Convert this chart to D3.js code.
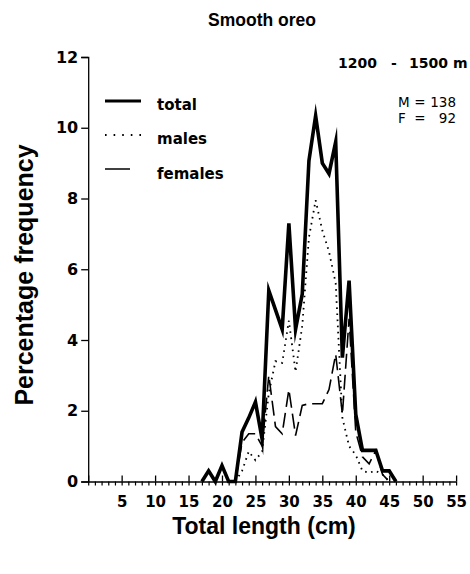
<!DOCTYPE html>
<html>
<head>
<meta charset="utf-8">
<script src="https://cdn.jsdelivr.net/npm/d3@7"></script>
<style>
  html, body { margin: 0; padding: 0; background: #fff; }
  svg { display: block; }
</style>
</head>
<body>
<script>
// Length-frequency of smooth oreo, 1200 - 1500 m depth stratum
const lengthsTotal = [17,18,19,20,21,22,23,24,25,26,27,28,29,30,31,32,33,34,35,36,37,38,39,40,41,42,43,44,45,46];
const totalPct     = [0,0.3,0,0.45,0,0,1.4,1.8,2.25,1.2,5.4,4.85,4.3,7.3,4.3,5.3,9.07,10.34,9.0,8.7,9.6,3.5,5.68,1.9,0.88,0.88,0.88,0.3,0.3,0];

const lengthsSex = [22,23,24,25,26,27,28,29,30,31,32,33,34,35,36,37,38,39,40,41,42,43,44,45];
const malesPct   = [0,0.3,0.85,0.6,0.85,2.5,3.4,3.35,4.55,3.1,4.4,6.9,7.95,7.1,6.5,5.6,1.8,1.0,0.75,0.3,0.25,0.3,0.2,0];
const femalesPct = [0,1.1,1.35,1.35,1.0,3.0,1.55,1.35,2.6,1.3,2.15,2.2,2.2,2.2,2.6,3.6,1.9,4.6,1.4,0.7,0.5,0.88,0.2,0];

const yTicks = [0,2,4,6,8,10,12];
const xMajorTicks = [0,5,10,15,20,25,30,35,40,45,50,55];
const xLabelTicks = [5,10,15,20,25,30,35,40,45,50,55];
const xMinorTicks = d3.range(0, 56);

const legendItems = ["total", "males", "females"];
const sampleSizes = [["M", "138"], ["F", "92"]];
const depthParts = [["1200", 338], ["-", 391], ["1500", 409], ["m", 453]];

const W = 470, H = 574;
const svg = d3.select("body").append("svg").attr("width", W).attr("height", H);

const x = d3.scaleLinear().domain([0, 55]).range([88.2, 456.1]);
const y = d3.scaleLinear().domain([0, 12]).range([481.5, 57]);

const labelFont = "'DejaVu Sans', sans-serif";
const titleFont = "'Liberation Sans', Arial, sans-serif";

// Title
svg.append("text").attr("x", 262).attr("y", 26).attr("text-anchor", "middle")
  .attr("font-family", titleFont).attr("font-weight", "bold").attr("font-size", 17.5)
  .text("Smooth oreo");

// Y axis
const yAxis = svg.append("g").attr("transform", `translate(${x(0)},0)`)
  .call(d3.axisLeft(y).tickValues(yTicks).tickSize(7).tickPadding(3).tickFormat(d3.format("d")));
yAxis.select(".domain").attr("stroke", "#000").attr("stroke-width", 1.3);
yAxis.selectAll(".tick line").attr("stroke", "#000").attr("stroke-width", 1.3);
yAxis.selectAll(".tick text").attr("font-family", labelFont).attr("font-weight", "bold")
  .attr("font-size", 16).attr("fill", "#000");

// X axis: minor ticks every cm below, major ticks every 5 cm across the line
const xMinor = svg.append("g").attr("transform", `translate(0,${y(0)})`)
  .call(d3.axisBottom(x).tickValues(xMinorTicks).tickSize(4).tickSizeOuter(0).tickFormat(""));
xMinor.select(".domain").attr("stroke", "#000").attr("stroke-width", 1.6);
xMinor.selectAll(".tick line").attr("stroke", "#000").attr("stroke-width", 1.2);

const xMajor = svg.append("g").attr("transform", `translate(0,${y(0)})`)
  .call(d3.axisTop(x).tickValues(xMajorTicks).tickSize(6).tickSizeOuter(0).tickFormat(""));
xMajor.select(".domain").remove();
xMajor.selectAll(".tick line").attr("stroke", "#000").attr("stroke-width", 1.3);

const xLabels = svg.append("g").attr("transform", `translate(0,${y(0)})`)
  .call(d3.axisBottom(x).tickValues(xLabelTicks).tickSize(0).tickPadding(15).tickFormat(d3.format("d")));
xLabels.select(".domain").remove();
xLabels.selectAll(".tick text").attr("font-family", labelFont).attr("font-weight", "bold")
  .attr("font-size", 15).attr("fill", "#000");

// Axis titles
svg.append("text").attr("x", 264).attr("y", 534).attr("text-anchor", "middle")
  .attr("font-family", titleFont).attr("font-weight", "bold").attr("font-size", 23)
  .text("Total length (cm)");
svg.append("text").attr("transform", "translate(33,275) rotate(-90)").attr("text-anchor", "middle")
  .attr("font-family", titleFont).attr("font-weight", "bold").attr("font-size", 25)
  .text("Percentage frequency");

// Series lines
const lineOf = (xs, vs) => d3.line().x((d, i) => x(xs[i])).y(d => y(d))(vs);

svg.append("path").attr("d", lineOf(lengthsSex, femalesPct))
  .attr("fill", "none").attr("stroke", "#000").attr("stroke-width", 1.6)
  .attr("stroke-dasharray", "15 6");
svg.append("path").attr("d", lineOf(lengthsSex, malesPct))
  .attr("fill", "none").attr("stroke", "#000").attr("stroke-width", 1.8)
  .attr("stroke-dasharray", "1.6 4.5");
svg.append("path").attr("d", lineOf(lengthsTotal, totalPct))
  .attr("fill", "none").attr("stroke", "#000").attr("stroke-width", 3.6)
  .attr("stroke-linejoin", "miter").attr("stroke-miterlimit", 10);

// Legend
const legendY = [101, 135, 169];
const legendText = [110, 144, 179];
const lg = svg.append("g");
lg.append("line").attr("x1", 105).attr("x2", 141).attr("y1", legendY[0]).attr("y2", legendY[0])
  .attr("stroke", "#000").attr("stroke-width", 3.2);
lg.append("line").attr("x1", 105).attr("x2", 141).attr("y1", legendY[1]).attr("y2", legendY[1])
  .attr("stroke", "#000").attr("stroke-width", 1.8).attr("stroke-dasharray", "1.6 7");
lg.append("line").attr("x1", 105).attr("x2", 130).attr("y1", legendY[2]).attr("y2", legendY[2])
  .attr("stroke", "#000").attr("stroke-width", 1.5);
lg.selectAll("text.leg").data(legendItems).enter().append("text")
  .attr("class", "leg").attr("x", 157).attr("y", (d, i) => legendText[i])
  .attr("font-family", labelFont).attr("font-weight", "bold").attr("font-size", 15)
  .text(d => d);

// Depth range and sample sizes
const depth = svg.append("text").attr("y", 68)
  .attr("font-family", labelFont).attr("font-weight", "bold").attr("font-size", 14);
depthParts.forEach(([t, px]) => depth.append("tspan").attr("x", px).text(t));

const ss = svg.append("g").attr("font-family", labelFont).attr("font-size", 13.5);
sampleSizes.forEach(([k, v], i) => {
  const by = 107 + i * 16;
  ss.append("text").attr("x", 398).attr("y", by).text(k);
  ss.append("text").attr("x", 420).attr("y", by).attr("text-anchor", "middle").text("=");
  ss.append("text").attr("x", 456).attr("y", by).attr("text-anchor", "end").text(v);
});
</script>
</body>
</html>
